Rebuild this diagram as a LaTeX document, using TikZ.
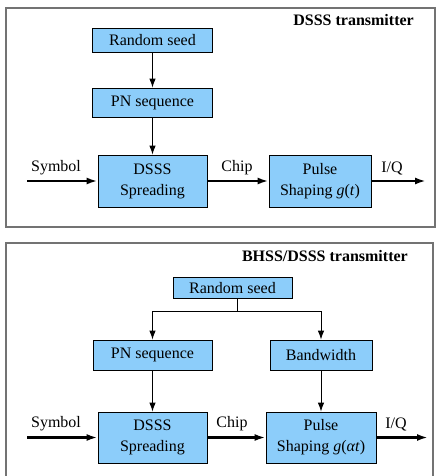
\documentclass[tikz,border=0pt]{standalone}
\usepackage{fontspec}
\setmainfont{Liberation Serif}
\usetikzlibrary{arrows.meta}
\definecolor{boxblue}{RGB}{140,205,250}
\definecolor{framegray}{RGB}{115,115,115}
\begin{document}
\begin{tikzpicture}[x=1pt,y=-1pt,
  font=\fontsize{16}{21}\selectfont,
  blk/.style={draw=black, fill=boxblue, line width=0.8pt, inner sep=0pt, align=center},
  thinarr/.style={line width=0.9pt, -{Latex[length=9pt,width=6.5pt]}},
  sig/.style={line width=2.2pt, -{Latex[length=11pt,width=7pt]}},
  frm/.style={draw=framegray, line width=1.2pt},
  lbl/.style={inner sep=0pt},
  ttl/.style={inner sep=0pt, font=\fontsize{16}{18}\selectfont\bfseries}]
\useasboundingbox (0,0) rectangle (436,476);
% ---------- top panel ----------
\draw[frm] (6,8) rectangle (435,227);
\node[ttl, anchor=base east] (t1) at (414,26) {DSSS transmitter};
\node[blk, minimum width=120pt, minimum height=24pt] (rs1) at (152.5,40) {Random seed};
\node[blk, minimum width=120pt, minimum height=29pt] (pn1) at (152.5,102.5) {PN sequence};
\node[blk, minimum width=109pt, minimum height=52pt] (ds1) at (152.5,181) {DSSS\\Spreading};
\node[blk, minimum width=102pt, minimum height=52pt] (ps1) at (320,181) {Pulse\\Shaping \textit{g}(\textit{t})};
\coordinate (in1) at (27,181);
\coordinate (out1) at (426,181);
\draw[thinarr] (rs1) -- (pn1);
\draw[thinarr] (pn1) -- (ds1);
\draw[sig] (in1) -- (ds1);
\draw[sig] (ds1) -- (ps1);
\draw[sig] (ps1) -- (out1);
\node[lbl] (sl1) at (56,168) {Symbol};
\node[lbl] (cl1) at (237,168) {Chip};
\node[lbl] (ql1) at (392,168) {I/Q};
% ---------- bottom panel ----------
\draw[frm] (6,476) -- (6,243) -- (433,243) -- (433,476);
\node[ttl, anchor=base east] (t2) at (408,261) {BHSS/DSSS transmitter};
\node[blk, minimum width=119pt, minimum height=21pt] (rs2) at (232.5,288) {Random seed};
\node[blk, minimum width=119pt, minimum height=30pt] (pn2) at (152.5,355) {PN sequence};
\node[blk, minimum width=102pt, minimum height=30pt] (bw2) at (321,355) {Bandwidth};
\node[blk, minimum width=109pt, minimum height=51pt] (ds2) at (152.5,437.5) {DSSS\\Spreading};
\node[blk, minimum width=110pt, minimum height=51pt] (ps2) at (321,437.5) {Pulse\\Shaping \textit{g}(\textit{αt})};
\coordinate (j2) at (237,311);
\coordinate (in2) at (27,437.5);
\coordinate (out2) at (428,437.5);
\draw[line width=0.9pt] (rs2.south -| j2) -- (j2);
\draw[thinarr] (j2) -| (pn2);
\draw[thinarr] (j2) -| (bw2);
\draw[thinarr] (pn2) -- (ds2);
\draw[thinarr] (bw2) -- (ps2);
\draw[sig] (in2) -- (ds2);
\draw[sig] (ds2) -- (ps2);
\draw[sig] (ps2) -- (out2);
\node[lbl] (sl2) at (56,424) {Symbol};
\node[lbl] (cl2) at (232,424) {Chip};
\node[lbl] (ql2) at (396,424) {I/Q};
\end{tikzpicture}
\end{document}
